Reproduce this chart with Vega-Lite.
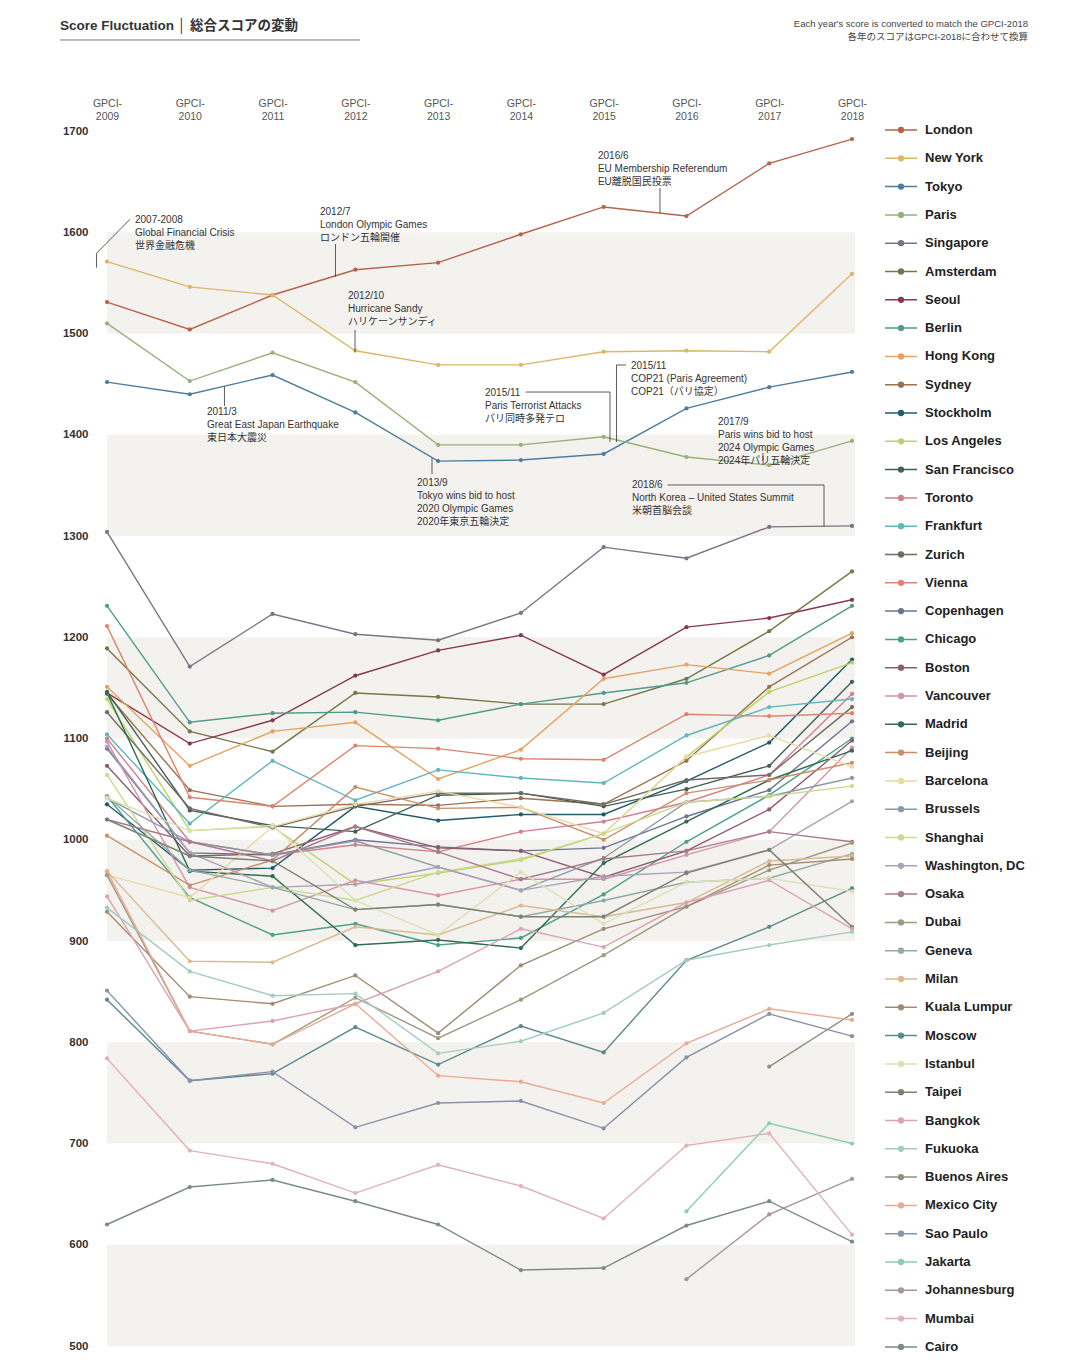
{
"$schema": "https://vega.github.io/schema/vega-lite/v6.json",
"width": 745, "height": 1215,
"autosize": {"type": "none"},
"padding": {"left": 107, "top": 131, "right": 228, "bottom": 18},
"background": "white",
"config": {"view": {"stroke": null}, "font": "Liberation Sans, Noto Sans CJK JP"},
"datasets": {
"bands": [{"lo":1500,"hi":1600},{"lo":1300,"hi":1400},{"lo":1100,"hi":1200},{"lo":900,"hi":1000},{"lo":700,"hi":800},{"lo":500,"hi":600}],
"leaders": [
{"year":2009.278,"score":1612.8,"year2":2008.873,"score2":1579.2},
{"year":2008.873,"score":1579.2,"year2":2008.873,"score2":1565.0},
{"year":2011.760,"score":1588.4,"year2":2011.760,"score2":1556.1},
{"year":2011.996,"score":1503.5,"year2":2011.996,"score2":1482.0},
{"year":2010.419,"score":1447.5,"year2":2010.419,"score2":1428.4},
{"year":2012.926,"score":1377.0,"year2":2012.926,"score2":1361.2},
{"year":2014.058,"score":1442.2,"year2":2015.076,"score2":1442.2},
{"year":2015.076,"score":1442.2,"year2":2015.076,"score2":1393.1},
{"year":2015.155,"score":1468.9,"year2":2015.155,"score2":1392.8},
{"year":2015.155,"score":1468.9,"year2":2015.270,"score2":1468.9},
{"year":2015.680,"score":1643.7,"year2":2015.680,"score2":1619.0},
{"year":2016.925,"score":1382.0,"year2":2016.925,"score2":1370.1},
{"year":2015.771,"score":1350.4,"year2":2017.662,"score2":1350.4},
{"year":2017.662,"score":1350.4,"year2":2017.662,"score2":1309.2}
],
"notes": [
{"year":2009.338,"score":1609.1,"label":"2007-2008\nGlobal Financial Crisis\n世界金融危機"},
{"year":2011.573,"score":1617.0,"label":"2012/7\nLondon Olympic Games\nロンドン五輪開催"},
{"year":2011.911,"score":1534.1,"label":"2012/10\nHurricane Sandy\nハリケーンサンディ"},
{"year":2010.208,"score":1419.5,"label":"2011/3\nGreat East Japan Earthquake\n東日本大震災"},
{"year":2012.745,"score":1349.4,"label":"2013/9\nTokyo wins bid to host\n2020 Olympic Games\n2020年東京五輪決定"},
{"year":2013.566,"score":1438.3,"label":"2015/11\nParis Terrorist Attacks\nパリ同時多発テロ"},
{"year":2015.330,"score":1464.9,"label":"2015/11\nCOP21 (Paris Agreement)\nCOP21（パリ協定）"},
{"year":2014.931,"score":1672.3,"label":"2016/6\nEU Membership Referendum\nEU離脱国民投票"},
{"year":2016.381,"score":1409.6,"label":"2017/9\nParis wins bid to host\n2024 Olympic Games\n2024年パリ五輪決定"},
{"year":2015.342,"score":1347.4,"label":"2018/6\nNorth Korea – United States Summit\n米朝首脳会談"}
],
"scores": [
{"city":"London","year":2009,"score":1531},{"city":"London","year":2010,"score":1504},{"city":"London","year":2011,"score":1538},{"city":"London","year":2012,"score":1563},{"city":"London","year":2013,"score":1570},{"city":"London","year":2014,"score":1598},{"city":"London","year":2015,"score":1625},{"city":"London","year":2016,"score":1616},{"city":"London","year":2017,"score":1668},{"city":"London","year":2018,"score":1692},
{"city":"New York","year":2009,"score":1571},{"city":"New York","year":2010,"score":1546},{"city":"New York","year":2011,"score":1538},{"city":"New York","year":2012,"score":1483},{"city":"New York","year":2013,"score":1469},{"city":"New York","year":2014,"score":1469},{"city":"New York","year":2015,"score":1482},{"city":"New York","year":2016,"score":1483},{"city":"New York","year":2017,"score":1482},{"city":"New York","year":2018,"score":1559},
{"city":"Tokyo","year":2009,"score":1452},{"city":"Tokyo","year":2010,"score":1440},{"city":"Tokyo","year":2011,"score":1459},{"city":"Tokyo","year":2012,"score":1422},{"city":"Tokyo","year":2013,"score":1374},{"city":"Tokyo","year":2014,"score":1375},{"city":"Tokyo","year":2015,"score":1381},{"city":"Tokyo","year":2016,"score":1426},{"city":"Tokyo","year":2017,"score":1447},{"city":"Tokyo","year":2018,"score":1462},
{"city":"Paris","year":2009,"score":1510},{"city":"Paris","year":2010,"score":1453},{"city":"Paris","year":2011,"score":1481},{"city":"Paris","year":2012,"score":1452},{"city":"Paris","year":2013,"score":1390},{"city":"Paris","year":2014,"score":1390},{"city":"Paris","year":2015,"score":1398},{"city":"Paris","year":2016,"score":1378},{"city":"Paris","year":2017,"score":1370},{"city":"Paris","year":2018,"score":1394},
{"city":"Singapore","year":2009,"score":1304},{"city":"Singapore","year":2010,"score":1171},{"city":"Singapore","year":2011,"score":1223},{"city":"Singapore","year":2012,"score":1203},{"city":"Singapore","year":2013,"score":1197},{"city":"Singapore","year":2014,"score":1224},{"city":"Singapore","year":2015,"score":1289},{"city":"Singapore","year":2016,"score":1278},{"city":"Singapore","year":2017,"score":1309},{"city":"Singapore","year":2018,"score":1310},
{"city":"Amsterdam","year":2009,"score":1189},{"city":"Amsterdam","year":2010,"score":1107},{"city":"Amsterdam","year":2011,"score":1087},{"city":"Amsterdam","year":2012,"score":1145},{"city":"Amsterdam","year":2013,"score":1141},{"city":"Amsterdam","year":2014,"score":1134},{"city":"Amsterdam","year":2015,"score":1134},{"city":"Amsterdam","year":2016,"score":1159},{"city":"Amsterdam","year":2017,"score":1206},{"city":"Amsterdam","year":2018,"score":1265},
{"city":"Seoul","year":2009,"score":1145},{"city":"Seoul","year":2010,"score":1095},{"city":"Seoul","year":2011,"score":1118},{"city":"Seoul","year":2012,"score":1162},{"city":"Seoul","year":2013,"score":1187},{"city":"Seoul","year":2014,"score":1202},{"city":"Seoul","year":2015,"score":1163},{"city":"Seoul","year":2016,"score":1210},{"city":"Seoul","year":2017,"score":1219},{"city":"Seoul","year":2018,"score":1237},
{"city":"Berlin","year":2009,"score":1231},{"city":"Berlin","year":2010,"score":1116},{"city":"Berlin","year":2011,"score":1125},{"city":"Berlin","year":2012,"score":1126},{"city":"Berlin","year":2013,"score":1118},{"city":"Berlin","year":2014,"score":1134},{"city":"Berlin","year":2015,"score":1145},{"city":"Berlin","year":2016,"score":1155},{"city":"Berlin","year":2017,"score":1182},{"city":"Berlin","year":2018,"score":1231},
{"city":"Hong Kong","year":2009,"score":1151},{"city":"Hong Kong","year":2010,"score":1073},{"city":"Hong Kong","year":2011,"score":1107},{"city":"Hong Kong","year":2012,"score":1116},{"city":"Hong Kong","year":2013,"score":1060},{"city":"Hong Kong","year":2014,"score":1089},{"city":"Hong Kong","year":2015,"score":1159},{"city":"Hong Kong","year":2016,"score":1173},{"city":"Hong Kong","year":2017,"score":1164},{"city":"Hong Kong","year":2018,"score":1204},
{"city":"Sydney","year":2009,"score":1144},{"city":"Sydney","year":2010,"score":1049},{"city":"Sydney","year":2011,"score":1033},{"city":"Sydney","year":2012,"score":1035},{"city":"Sydney","year":2013,"score":1034},{"city":"Sydney","year":2014,"score":1041},{"city":"Sydney","year":2015,"score":1035},{"city":"Sydney","year":2016,"score":1078},{"city":"Sydney","year":2017,"score":1151},{"city":"Sydney","year":2018,"score":1200},
{"city":"Stockholm","year":2009,"score":1035},{"city":"Stockholm","year":2010,"score":970},{"city":"Stockholm","year":2011,"score":972},{"city":"Stockholm","year":2012,"score":1033},{"city":"Stockholm","year":2013,"score":1019},{"city":"Stockholm","year":2014,"score":1025},{"city":"Stockholm","year":2015,"score":1025},{"city":"Stockholm","year":2016,"score":1058},{"city":"Stockholm","year":2017,"score":1096},{"city":"Stockholm","year":2018,"score":1178},
{"city":"Los Angeles","year":2009,"score":1139},{"city":"Los Angeles","year":2010,"score":1009},{"city":"Los Angeles","year":2011,"score":1013},{"city":"Los Angeles","year":2012,"score":956},{"city":"Los Angeles","year":2013,"score":967},{"city":"Los Angeles","year":2014,"score":980},{"city":"Los Angeles","year":2015,"score":1006},{"city":"Los Angeles","year":2016,"score":1082},{"city":"Los Angeles","year":2017,"score":1146},{"city":"Los Angeles","year":2018,"score":1175},
{"city":"San Francisco","year":2009,"score":1146},{"city":"San Francisco","year":2010,"score":1029},{"city":"San Francisco","year":2011,"score":1014},{"city":"San Francisco","year":2012,"score":1008},{"city":"San Francisco","year":2013,"score":1044},{"city":"San Francisco","year":2014,"score":1046},{"city":"San Francisco","year":2015,"score":1033},{"city":"San Francisco","year":2016,"score":1050},{"city":"San Francisco","year":2017,"score":1073},{"city":"San Francisco","year":2018,"score":1156},
{"city":"Toronto","year":2009,"score":1100},{"city":"Toronto","year":2010,"score":998},{"city":"Toronto","year":2011,"score":985},{"city":"Toronto","year":2012,"score":995},{"city":"Toronto","year":2013,"score":988},{"city":"Toronto","year":2014,"score":1008},{"city":"Toronto","year":2015,"score":1018},{"city":"Toronto","year":2016,"score":1037},{"city":"Toronto","year":2017,"score":1064},{"city":"Toronto","year":2018,"score":1144},
{"city":"Frankfurt","year":2009,"score":1104},{"city":"Frankfurt","year":2010,"score":1016},{"city":"Frankfurt","year":2011,"score":1078},{"city":"Frankfurt","year":2012,"score":1039},{"city":"Frankfurt","year":2013,"score":1069},{"city":"Frankfurt","year":2014,"score":1061},{"city":"Frankfurt","year":2015,"score":1056},{"city":"Frankfurt","year":2016,"score":1103},{"city":"Frankfurt","year":2017,"score":1131},{"city":"Frankfurt","year":2018,"score":1139},
{"city":"Zurich","year":2009,"score":1126},{"city":"Zurich","year":2010,"score":1031},{"city":"Zurich","year":2011,"score":1012},{"city":"Zurich","year":2012,"score":1033},{"city":"Zurich","year":2013,"score":1046},{"city":"Zurich","year":2014,"score":1046},{"city":"Zurich","year":2015,"score":1035},{"city":"Zurich","year":2016,"score":1059},{"city":"Zurich","year":2017,"score":1064},{"city":"Zurich","year":2018,"score":1131},
{"city":"Vienna","year":2009,"score":1211},{"city":"Vienna","year":2010,"score":1042},{"city":"Vienna","year":2011,"score":1033},{"city":"Vienna","year":2012,"score":1093},{"city":"Vienna","year":2013,"score":1090},{"city":"Vienna","year":2014,"score":1080},{"city":"Vienna","year":2015,"score":1079},{"city":"Vienna","year":2016,"score":1124},{"city":"Vienna","year":2017,"score":1122},{"city":"Vienna","year":2018,"score":1125},
{"city":"Copenhagen","year":2009,"score":1090},{"city":"Copenhagen","year":2010,"score":987},{"city":"Copenhagen","year":2011,"score":985},{"city":"Copenhagen","year":2012,"score":1000},{"city":"Copenhagen","year":2013,"score":993},{"city":"Copenhagen","year":2014,"score":989},{"city":"Copenhagen","year":2015,"score":992},{"city":"Copenhagen","year":2016,"score":1023},{"city":"Copenhagen","year":2017,"score":1049},{"city":"Copenhagen","year":2018,"score":1117},
{"city":"Chicago","year":2009,"score":1043},{"city":"Chicago","year":2010,"score":943},{"city":"Chicago","year":2011,"score":906},{"city":"Chicago","year":2012,"score":917},{"city":"Chicago","year":2013,"score":896},{"city":"Chicago","year":2014,"score":903},{"city":"Chicago","year":2015,"score":946},{"city":"Chicago","year":2016,"score":998},{"city":"Chicago","year":2017,"score":1044},{"city":"Chicago","year":2018,"score":1100},
{"city":"Boston","year":2009,"score":1073},{"city":"Boston","year":2010,"score":984},{"city":"Boston","year":2011,"score":986},{"city":"Boston","year":2012,"score":1013},{"city":"Boston","year":2013,"score":992},{"city":"Boston","year":2014,"score":989},{"city":"Boston","year":2015,"score":963},{"city":"Boston","year":2016,"score":989},{"city":"Boston","year":2017,"score":1030},{"city":"Boston","year":2018,"score":1098},
{"city":"Vancouver","year":2009,"score":1097},{"city":"Vancouver","year":2010,"score":953},{"city":"Vancouver","year":2011,"score":930},{"city":"Vancouver","year":2012,"score":960},{"city":"Vancouver","year":2013,"score":945},{"city":"Vancouver","year":2014,"score":961},{"city":"Vancouver","year":2015,"score":961},{"city":"Vancouver","year":2016,"score":985},{"city":"Vancouver","year":2017,"score":1008},{"city":"Vancouver","year":2018,"score":1091},
{"city":"Madrid","year":2009,"score":1145},{"city":"Madrid","year":2010,"score":969},{"city":"Madrid","year":2011,"score":964},{"city":"Madrid","year":2012,"score":896},{"city":"Madrid","year":2013,"score":901},{"city":"Madrid","year":2014,"score":893},{"city":"Madrid","year":2015,"score":977},{"city":"Madrid","year":2016,"score":1018},{"city":"Madrid","year":2017,"score":1059},{"city":"Madrid","year":2018,"score":1088},
{"city":"Beijing","year":2009,"score":1004},{"city":"Beijing","year":2010,"score":955},{"city":"Beijing","year":2011,"score":980},{"city":"Beijing","year":2012,"score":1052},{"city":"Beijing","year":2013,"score":1031},{"city":"Beijing","year":2014,"score":1032},{"city":"Beijing","year":2015,"score":1000},{"city":"Beijing","year":2016,"score":1046},{"city":"Beijing","year":2017,"score":1059},{"city":"Beijing","year":2018,"score":1076},
{"city":"Barcelona","year":2009,"score":965},{"city":"Barcelona","year":2010,"score":943},{"city":"Barcelona","year":2011,"score":1013},{"city":"Barcelona","year":2012,"score":1035},{"city":"Barcelona","year":2013,"score":1048},{"city":"Barcelona","year":2014,"score":1032},{"city":"Barcelona","year":2015,"score":1006},{"city":"Barcelona","year":2016,"score":1082},{"city":"Barcelona","year":2017,"score":1103},{"city":"Barcelona","year":2018,"score":1072},
{"city":"Brussels","year":2009,"score":1041},{"city":"Brussels","year":2010,"score":998},{"city":"Brussels","year":2011,"score":985},{"city":"Brussels","year":2012,"score":999},{"city":"Brussels","year":2013,"score":973},{"city":"Brussels","year":2014,"score":950},{"city":"Brussels","year":2015,"score":982},{"city":"Brussels","year":2016,"score":1037},{"city":"Brussels","year":2017,"score":1043},{"city":"Brussels","year":2018,"score":1061},
{"city":"Shanghai","year":2009,"score":1064},{"city":"Shanghai","year":2010,"score":940},{"city":"Shanghai","year":2011,"score":953},{"city":"Shanghai","year":2012,"score":940},{"city":"Shanghai","year":2013,"score":968},{"city":"Shanghai","year":2014,"score":981},{"city":"Shanghai","year":2015,"score":1006},{"city":"Shanghai","year":2016,"score":1037},{"city":"Shanghai","year":2017,"score":1043},{"city":"Shanghai","year":2018,"score":1053},
{"city":"Washington, DC","year":2009,"score":1092},{"city":"Washington, DC","year":2010,"score":987},{"city":"Washington, DC","year":2011,"score":953},{"city":"Washington, DC","year":2012,"score":956},{"city":"Washington, DC","year":2013,"score":973},{"city":"Washington, DC","year":2014,"score":950},{"city":"Washington, DC","year":2015,"score":964},{"city":"Washington, DC","year":2016,"score":968},{"city":"Washington, DC","year":2017,"score":990},{"city":"Washington, DC","year":2018,"score":1038},
{"city":"Osaka","year":2009,"score":1020},{"city":"Osaka","year":2010,"score":998},{"city":"Osaka","year":2011,"score":979},{"city":"Osaka","year":2012,"score":1013},{"city":"Osaka","year":2013,"score":988},{"city":"Osaka","year":2014,"score":961},{"city":"Osaka","year":2015,"score":981},{"city":"Osaka","year":2016,"score":989},{"city":"Osaka","year":2017,"score":1008},{"city":"Osaka","year":2018,"score":998},
{"city":"Dubai","year":2009,"score":965},{"city":"Dubai","year":2010,"score":811},{"city":"Dubai","year":2011,"score":798},{"city":"Dubai","year":2012,"score":844},{"city":"Dubai","year":2013,"score":804},{"city":"Dubai","year":2014,"score":842},{"city":"Dubai","year":2015,"score":886},{"city":"Dubai","year":2016,"score":934},{"city":"Dubai","year":2017,"score":970},{"city":"Dubai","year":2018,"score":997},
{"city":"Geneva","year":2009,"score":1043},{"city":"Geneva","year":2010,"score":970},{"city":"Geneva","year":2011,"score":953},{"city":"Geneva","year":2012,"score":931},{"city":"Geneva","year":2013,"score":936},{"city":"Geneva","year":2014,"score":924},{"city":"Geneva","year":2015,"score":940},{"city":"Geneva","year":2016,"score":958},{"city":"Geneva","year":2017,"score":962},{"city":"Geneva","year":2018,"score":986},
{"city":"Milan","year":2009,"score":969},{"city":"Milan","year":2010,"score":880},{"city":"Milan","year":2011,"score":879},{"city":"Milan","year":2012,"score":914},{"city":"Milan","year":2013,"score":906},{"city":"Milan","year":2014,"score":935},{"city":"Milan","year":2015,"score":924},{"city":"Milan","year":2016,"score":938},{"city":"Milan","year":2017,"score":979},{"city":"Milan","year":2018,"score":984},
{"city":"Kuala Lumpur","year":2009,"score":929},{"city":"Kuala Lumpur","year":2010,"score":845},{"city":"Kuala Lumpur","year":2011,"score":838},{"city":"Kuala Lumpur","year":2012,"score":866},{"city":"Kuala Lumpur","year":2013,"score":809},{"city":"Kuala Lumpur","year":2014,"score":876},{"city":"Kuala Lumpur","year":2015,"score":912},{"city":"Kuala Lumpur","year":2016,"score":934},{"city":"Kuala Lumpur","year":2017,"score":975},{"city":"Kuala Lumpur","year":2018,"score":981},
{"city":"Moscow","year":2009,"score":842},{"city":"Moscow","year":2010,"score":762},{"city":"Moscow","year":2011,"score":769},{"city":"Moscow","year":2012,"score":815},{"city":"Moscow","year":2013,"score":778},{"city":"Moscow","year":2014,"score":816},{"city":"Moscow","year":2015,"score":790},{"city":"Moscow","year":2016,"score":881},{"city":"Moscow","year":2017,"score":914},{"city":"Moscow","year":2018,"score":952},
{"city":"Istanbul","year":2009,"score":1041},{"city":"Istanbul","year":2010,"score":1009},{"city":"Istanbul","year":2011,"score":1014},{"city":"Istanbul","year":2012,"score":940},{"city":"Istanbul","year":2013,"score":906},{"city":"Istanbul","year":2014,"score":968},{"city":"Istanbul","year":2015,"score":917},{"city":"Istanbul","year":2016,"score":958},{"city":"Istanbul","year":2017,"score":962},{"city":"Istanbul","year":2018,"score":949},
{"city":"Taipei","year":2009,"score":1020},{"city":"Taipei","year":2010,"score":984},{"city":"Taipei","year":2011,"score":979},{"city":"Taipei","year":2012,"score":931},{"city":"Taipei","year":2013,"score":936},{"city":"Taipei","year":2014,"score":924},{"city":"Taipei","year":2015,"score":924},{"city":"Taipei","year":2016,"score":967},{"city":"Taipei","year":2017,"score":990},{"city":"Taipei","year":2018,"score":914},
{"city":"Bangkok","year":2009,"score":944},{"city":"Bangkok","year":2010,"score":811},{"city":"Bangkok","year":2011,"score":821},{"city":"Bangkok","year":2012,"score":838},{"city":"Bangkok","year":2013,"score":870},{"city":"Bangkok","year":2014,"score":912},{"city":"Bangkok","year":2015,"score":894},{"city":"Bangkok","year":2016,"score":938},{"city":"Bangkok","year":2017,"score":960},{"city":"Bangkok","year":2018,"score":912},
{"city":"Fukuoka","year":2009,"score":933},{"city":"Fukuoka","year":2010,"score":870},{"city":"Fukuoka","year":2011,"score":846},{"city":"Fukuoka","year":2012,"score":848},{"city":"Fukuoka","year":2013,"score":789},{"city":"Fukuoka","year":2014,"score":801},{"city":"Fukuoka","year":2015,"score":829},{"city":"Fukuoka","year":2016,"score":881},{"city":"Fukuoka","year":2017,"score":896},{"city":"Fukuoka","year":2018,"score":909},
{"city":"Buenos Aires","year":2017,"score":776},{"city":"Buenos Aires","year":2018,"score":828},
{"city":"Mexico City","year":2009,"score":969},{"city":"Mexico City","year":2010,"score":811},{"city":"Mexico City","year":2011,"score":798},{"city":"Mexico City","year":2012,"score":838},{"city":"Mexico City","year":2013,"score":767},{"city":"Mexico City","year":2014,"score":761},{"city":"Mexico City","year":2015,"score":740},{"city":"Mexico City","year":2016,"score":799},{"city":"Mexico City","year":2017,"score":833},{"city":"Mexico City","year":2018,"score":822},
{"city":"Sao Paulo","year":2009,"score":851},{"city":"Sao Paulo","year":2010,"score":762},{"city":"Sao Paulo","year":2011,"score":771},{"city":"Sao Paulo","year":2012,"score":716},{"city":"Sao Paulo","year":2013,"score":740},{"city":"Sao Paulo","year":2014,"score":742},{"city":"Sao Paulo","year":2015,"score":715},{"city":"Sao Paulo","year":2016,"score":785},{"city":"Sao Paulo","year":2017,"score":828},{"city":"Sao Paulo","year":2018,"score":806},
{"city":"Jakarta","year":2016,"score":633},{"city":"Jakarta","year":2017,"score":720},{"city":"Jakarta","year":2018,"score":700},
{"city":"Johannesburg","year":2016,"score":566},{"city":"Johannesburg","year":2017,"score":630},{"city":"Johannesburg","year":2018,"score":665},
{"city":"Mumbai","year":2009,"score":784},{"city":"Mumbai","year":2010,"score":693},{"city":"Mumbai","year":2011,"score":680},{"city":"Mumbai","year":2012,"score":651},{"city":"Mumbai","year":2013,"score":679},{"city":"Mumbai","year":2014,"score":658},{"city":"Mumbai","year":2015,"score":626},{"city":"Mumbai","year":2016,"score":698},{"city":"Mumbai","year":2017,"score":710},{"city":"Mumbai","year":2018,"score":610},
{"city":"Cairo","year":2009,"score":620},{"city":"Cairo","year":2010,"score":657},{"city":"Cairo","year":2011,"score":664},{"city":"Cairo","year":2012,"score":643},{"city":"Cairo","year":2013,"score":620},{"city":"Cairo","year":2014,"score":575},{"city":"Cairo","year":2015,"score":577},{"city":"Cairo","year":2016,"score":619},{"city":"Cairo","year":2017,"score":643},{"city":"Cairo","year":2018,"score":603}
]
},
"layer": [
{
"data": {"name": "bands"},
"mark": {"type": "rect", "color": "#f4f2ef"},
"encoding": {
"x": {"datum": 2009, "type": "quantitative", "scale": {"domain": [2009, 2018], "nice": false, "zero": false},
"axis": {"orient": "top", "values": [2009,2010,2011,2012,2013,2014,2015,2016,2017,2018], "labelExpr": "['GPCI-', '' + datum.value]", "ticks": false, "domain": false, "grid": false, "labelPadding": 23, "labelFontSize": 10.5, "labelColor": "#555", "labelLineHeight": 13, "title": null, "labelFlush": false, "labelOverlap": false}},
"x2": {"datum": 2018.036},
"y": {"field": "lo", "type": "quantitative", "scale": {"domain": [500, 1700], "nice": false, "zero": false},
"axis": {"orient": "left", "values": [500,600,700,800,900,1000,1100,1200,1300,1400,1500,1600,1700], "format": "d", "ticks": false, "domain": false, "grid": false, "labelAlign": "right", "labelPadding": 19, "labelFontSize": 11.5, "labelFontWeight": "bold", "labelColor": "#333", "title": null, "labelFlush": false, "labelOverlap": false}},
"y2": {"field": "hi"}
}
},
{
"data": {"name": "scores"},
"encoding": {
"x": {"field": "year", "type": "quantitative", "scale": {"domain": [2009, 2018], "nice": false, "zero": false},
"axis": {"orient": "top", "values": [2009,2010,2011,2012,2013,2014,2015,2016,2017,2018], "labelExpr": "['GPCI-', '' + datum.value]", "ticks": false, "domain": false, "grid": false, "labelPadding": 23, "labelFontSize": 10.5, "labelColor": "#555", "labelLineHeight": 13, "title": null, "labelFlush": false, "labelOverlap": false}},
"y": {"field": "score", "type": "quantitative", "scale": {"domain": [500, 1700], "nice": false, "zero": false},
"axis": {"orient": "left", "values": [500,600,700,800,900,1000,1100,1200,1300,1400,1500,1600,1700], "format": "d", "ticks": false, "domain": false, "grid": false, "labelAlign": "right", "labelPadding": 19, "labelFontSize": 11.5, "labelFontWeight": "bold", "labelColor": "#333", "title": null, "labelFlush": false, "labelOverlap": false}},
"color": {"field": "city", "type": "nominal",
"scale": {
"domain": ["London","New York","Tokyo","Paris","Singapore","Amsterdam","Seoul","Berlin","Hong Kong","Sydney","Stockholm","Los Angeles","San Francisco","Toronto","Frankfurt","Zurich","Vienna","Copenhagen","Chicago","Boston","Vancouver","Madrid","Beijing","Barcelona","Brussels","Shanghai","Washington, DC","Osaka","Dubai","Geneva","Milan","Kuala Lumpur","Moscow","Istanbul","Taipei","Bangkok","Fukuoka","Buenos Aires","Mexico City","Sao Paulo","Jakarta","Johannesburg","Mumbai","Cairo"],
"range": ["#b5634b","#dcb766","#4e7d9c","#98b07a","#7a7484","#6f7a45","#86384f","#4f9a8c","#e3a463","#9c7050","#245b6c","#bdd267","#3f5f55","#d47f90","#5fb6bf","#716a62","#dc846c","#6d7491","#4c9f8b","#8c5c70","#d593aa","#2f6d52","#c98f6a","#ead9a2","#8b9aa7","#cad98f","#a9a2ba","#a97a8c","#9c9b81","#92a9a9","#dabb91","#a28b72","#5c8a8b","#dbe2b3","#7c8272","#dba2b2","#a3cbc2","#8c9282","#eaa993","#8a91a8","#8fcbb0","#aa92a3","#e2b1b9","#7b8b89"]
},
"legend": {"orient": "none", "legendX": 785, "legendY": -10, "direction": "vertical", "columns": 1, "title": null,
"symbolType": "M-2,0L2,0M0.3,0A0.3,0.3,0,1,1,-0.3,0A0.3,0.3,0,1,1,0.3,0Z",
"symbolSize": 256, "symbolStrokeWidth": 1.5, "labelFontSize": 13, "labelFontWeight": "bold", "labelColor": "#222",
"labelOffset": 15, "rowPadding": 12.3, "padding": 0, "symbolLimit": 50, "labelLimit": 200,
"encode": {"symbols": {"update": {"fill": {"scale": "color", "field": "value"}, "stroke": {"scale": "color", "field": "value"}, "opacity": {"value": 1}}}}}
}
},
"layer": [
{"mark": {"type": "line", "strokeWidth": 1.4}},
{"mark": {"type": "point", "filled": true, "size": 18, "opacity": 1}}
]
},
{
"data": {"name": "leaders"},
"mark": {"type": "rule", "color": "#333", "strokeWidth": 0.8},
"encoding": {
"x": {"field": "year", "type": "quantitative", "scale": {"domain": [2009, 2018], "nice": false, "zero": false},
"axis": {"orient": "top", "values": [2009,2010,2011,2012,2013,2014,2015,2016,2017,2018], "labelExpr": "['GPCI-', '' + datum.value]", "ticks": false, "domain": false, "grid": false, "labelPadding": 23, "labelFontSize": 10.5, "labelColor": "#555", "labelLineHeight": 13, "title": null, "labelFlush": false, "labelOverlap": false}},
"x2": {"field": "year2"},
"y": {"field": "score", "type": "quantitative", "scale": {"domain": [500, 1700], "nice": false, "zero": false},
"axis": {"orient": "left", "values": [500,600,700,800,900,1000,1100,1200,1300,1400,1500,1600,1700], "format": "d", "ticks": false, "domain": false, "grid": false, "labelAlign": "right", "labelPadding": 19, "labelFontSize": 11.5, "labelFontWeight": "bold", "labelColor": "#333", "title": null, "labelFlush": false, "labelOverlap": false}},
"y2": {"field": "score2"}
}
},
{
"data": {"name": "notes"},
"mark": {"type": "text", "align": "left", "baseline": "alphabetic", "fontSize": 10, "lineHeight": 13, "lineBreak": "\n", "color": "#333"},
"encoding": {
"x": {"field": "year", "type": "quantitative", "scale": {"domain": [2009, 2018], "nice": false, "zero": false},
"axis": {"orient": "top", "values": [2009,2010,2011,2012,2013,2014,2015,2016,2017,2018], "labelExpr": "['GPCI-', '' + datum.value]", "ticks": false, "domain": false, "grid": false, "labelPadding": 23, "labelFontSize": 10.5, "labelColor": "#555", "labelLineHeight": 13, "title": null, "labelFlush": false, "labelOverlap": false}},
"y": {"field": "score", "type": "quantitative", "scale": {"domain": [500, 1700], "nice": false, "zero": false},
"axis": {"orient": "left", "values": [500,600,700,800,900,1000,1100,1200,1300,1400,1500,1600,1700], "format": "d", "ticks": false, "domain": false, "grid": false, "labelAlign": "right", "labelPadding": 19, "labelFontSize": 11.5, "labelFontWeight": "bold", "labelColor": "#333", "title": null, "labelFlush": false, "labelOverlap": false}},
"text": {"field": "label", "type": "nominal"}
}
},
{
"data": {"values": [{"label": "Score Fluctuation │ 総合スコアの変動"}]},
"mark": {"type": "text", "align": "left", "baseline": "alphabetic", "fontSize": 13.5, "fontWeight": "bold", "color": "#333"},
"encoding": {
"x": {"datum": 2008.432, "type": "quantitative", "scale": {"domain": [2009, 2018], "nice": false, "zero": false},
"axis": {"orient": "top", "values": [2009,2010,2011,2012,2013,2014,2015,2016,2017,2018], "labelExpr": "['GPCI-', '' + datum.value]", "ticks": false, "domain": false, "grid": false, "labelPadding": 23, "labelFontSize": 10.5, "labelColor": "#555", "labelLineHeight": 13, "title": null, "labelFlush": false, "labelOverlap": false}},
"y": {"datum": 1800.2, "type": "quantitative", "scale": {"domain": [500, 1700], "nice": false, "zero": false},
"axis": {"orient": "left", "values": [500,600,700,800,900,1000,1100,1200,1300,1400,1500,1600,1700], "format": "d", "ticks": false, "domain": false, "grid": false, "labelAlign": "right", "labelPadding": 19, "labelFontSize": 11.5, "labelFontWeight": "bold", "labelColor": "#333", "title": null, "labelFlush": false, "labelOverlap": false}},
"text": {"field": "label", "type": "nominal"}
}
},
{
"data": {"values": [{"kind": "underline"}]},
"mark": {"type": "rule", "color": "#555", "strokeWidth": 0.8},
"encoding": {
"x": {"datum": 2008.432, "type": "quantitative", "scale": {"domain": [2009, 2018], "nice": false, "zero": false},
"axis": {"orient": "top", "values": [2009,2010,2011,2012,2013,2014,2015,2016,2017,2018], "labelExpr": "['GPCI-', '' + datum.value]", "ticks": false, "domain": false, "grid": false, "labelPadding": 23, "labelFontSize": 10.5, "labelColor": "#555", "labelLineHeight": 13, "title": null, "labelFlush": false, "labelOverlap": false}},
"x2": {"datum": 2012.056},
"y": {"datum": 1789.9, "type": "quantitative", "scale": {"domain": [500, 1700], "nice": false, "zero": false},
"axis": {"orient": "left", "values": [500,600,700,800,900,1000,1100,1200,1300,1400,1500,1600,1700], "format": "d", "ticks": false, "domain": false, "grid": false, "labelAlign": "right", "labelPadding": 19, "labelFontSize": 11.5, "labelFontWeight": "bold", "labelColor": "#333", "title": null, "labelFlush": false, "labelOverlap": false}}
}
},
{
"data": {"values": [{"label": "Each year's score is converted to match the GPCI-2018\n各年のスコアはGPCI-2018に合わせて換算"}]},
"mark": {"type": "text", "align": "right", "baseline": "alphabetic", "fontSize": 9.5, "lineHeight": 13, "lineBreak": "\n", "color": "#444"},
"encoding": {
"x": {"datum": 2020.126, "type": "quantitative", "scale": {"domain": [2009, 2018], "nice": false, "zero": false},
"axis": {"orient": "top", "values": [2009,2010,2011,2012,2013,2014,2015,2016,2017,2018], "labelExpr": "['GPCI-', '' + datum.value]", "ticks": false, "domain": false, "grid": false, "labelPadding": 23, "labelFontSize": 10.5, "labelColor": "#555", "labelLineHeight": 13, "title": null, "labelFlush": false, "labelOverlap": false}},
"y": {"datum": 1803.2, "type": "quantitative", "scale": {"domain": [500, 1700], "nice": false, "zero": false},
"axis": {"orient": "left", "values": [500,600,700,800,900,1000,1100,1200,1300,1400,1500,1600,1700], "format": "d", "ticks": false, "domain": false, "grid": false, "labelAlign": "right", "labelPadding": 19, "labelFontSize": 11.5, "labelFontWeight": "bold", "labelColor": "#333", "title": null, "labelFlush": false, "labelOverlap": false}},
"text": {"field": "label", "type": "nominal"}
}
}
]
}
